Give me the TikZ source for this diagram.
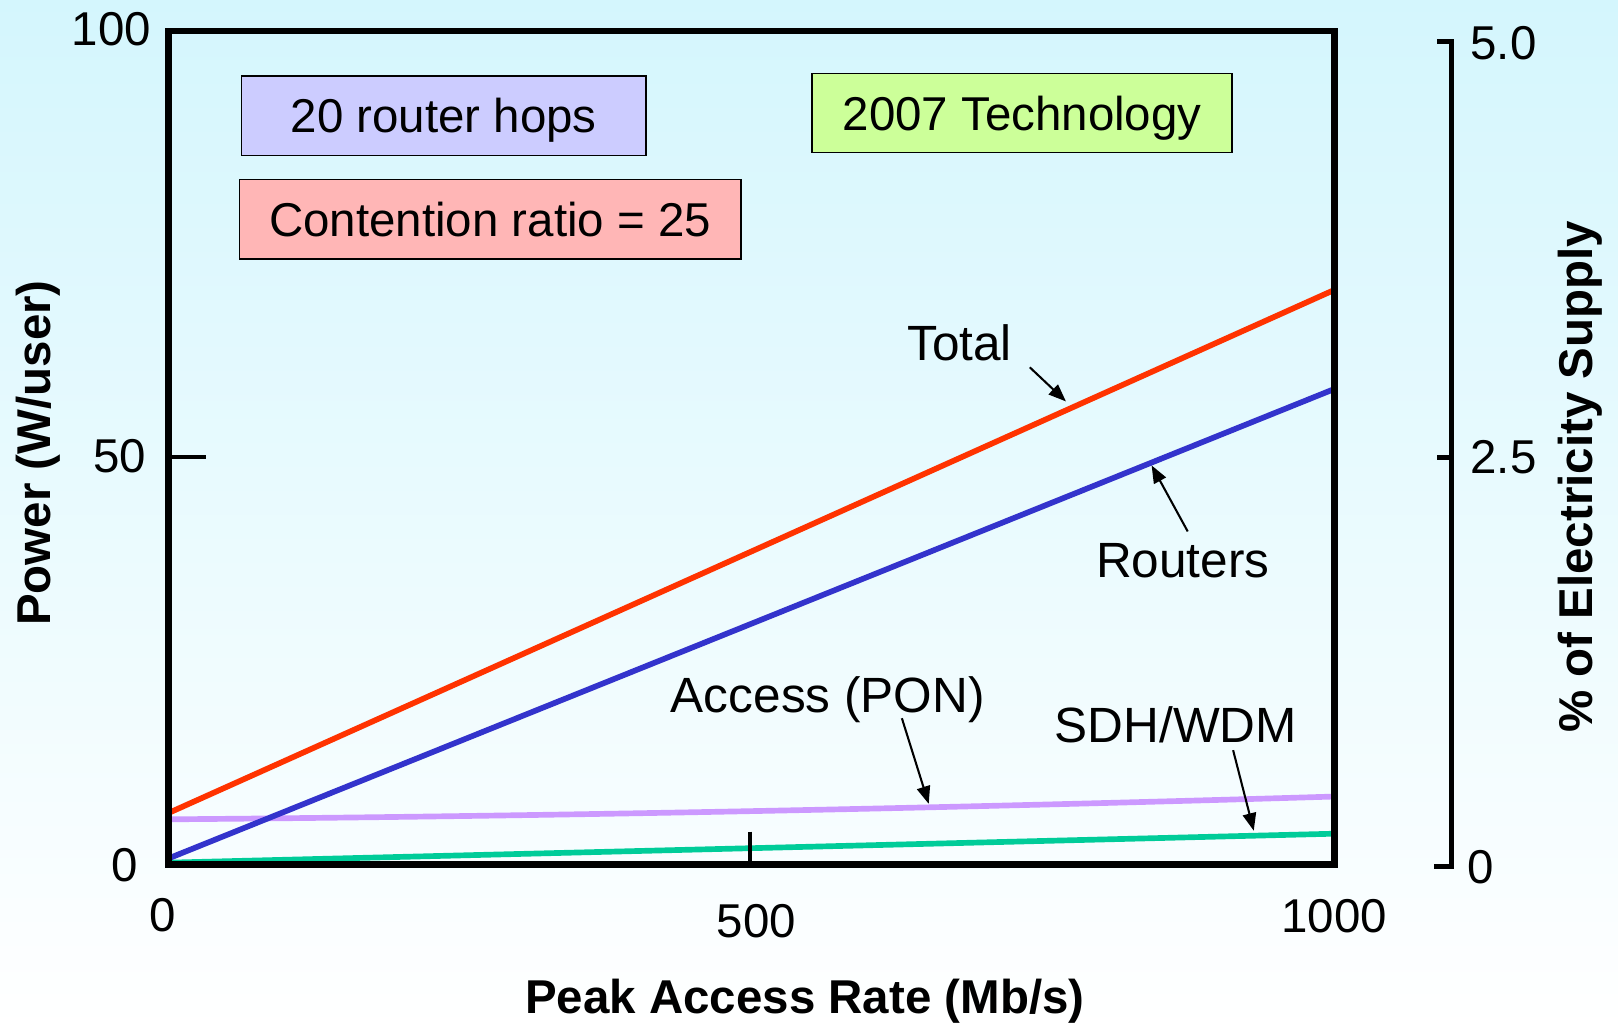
\documentclass[tikz,border=0pt]{standalone}
\usepackage{fontspec}
\setmainfont{Liberation Sans}
\usetikzlibrary{arrows.meta}
\definecolor{bgtop}{RGB}{212,246,253}
\definecolor{totalred}{RGB}{255,51,0}
\definecolor{routblue}{RGB}{51,51,204}
\definecolor{accpurple}{RGB}{204,153,255}
\definecolor{sdhgreen}{RGB}{0,204,153}
\definecolor{boxlav}{RGB}{204,204,255}
\definecolor{boxpink}{RGB}{255,182,182}
\definecolor{boxgreen}{RGB}{204,255,153}
\begin{document}
\begin{tikzpicture}[x=1pt,y=-1pt,
 lbl/.style={font=\fontsize{46}{52}\selectfont, inner sep=0pt},
 curvelbl/.style={font=\fontsize{48}{54}\selectfont, inner sep=0pt},
 ttl/.style={font=\fontsize{46}{52}\selectfont\bfseries, inner sep=0pt},
 infobox/.style={draw=black, line width=1.3pt, inner sep=0pt, text height=33pt, text depth=0pt, minimum height=77pt, font=\fontsize{46}{52}\selectfont},
 curve/.style={line width=5.5pt},
 pointer/.style={line width=2pt, -{Triangle[length=17pt,width=13pt]}},
 frameline/.style={line width=6.5pt},
 tickline/.style={line width=4pt},
 raxis/.style={line width=5pt, line join=miter},
]
\shade[top color=bgtop, bottom color=white] (0,0) rectangle (1568,997);
\useasboundingbox (0,0) rectangle (1568,997);

% plot area corners
\coordinate (fTL) at (163,30);
\coordinate (fBR) at (1293,838);

% curves
\coordinate (r0) at (163,788); \coordinate (r1) at (1293,281);
\coordinate (b0) at (163,832); \coordinate (b1) at (1293,377);
\coordinate (p0) at (163,794); \coordinate (p1) at (1290,772);
\coordinate (g0) at (163,836); \coordinate (g1) at (1290,808);
\draw[curve, accpurple] (p0) .. controls (521,791.1) and (897,783.8) .. (p1);
\draw[curve, sdhgreen] (g0) -- (g1);
\draw[curve, routblue] (b0) -- (b1);
\draw[curve, totalred] (r0) -- (r1);

% frame and ticks
\draw[frameline] (fTL) rectangle (fBR);
\coordinate (t50a) at (163,443); \coordinate (t50b) at (200,443);
\draw[tickline] (t50a) -- (t50b);
\coordinate (t500a) at (727,806); \coordinate (t500b) at (727,838);
\draw[tickline] (t500a) -- (t500b);

% right axis
\coordinate (ra1) at (1393,40); \coordinate (ra2) at (1407,40);
\coordinate (ra3) at (1407,840); \coordinate (ra4) at (1390,840);
\coordinate (ram) at (1393,443); \coordinate (ramr) at (1407,443);
\draw[raxis] (ra1) -- (ra2) -- (ra3) -- (ra4);
\draw[raxis] (ram) -- (ramr);

% tick labels
\node[lbl] (y100) at (108,28) {100};
\node[lbl] (y50) at (116,442) {50};
\node[lbl] (y0) at (121,838) {0};
\node[lbl] (x0) at (158,887) {0};
\node[lbl] (x500) at (733,893) {500};
\node[lbl] (x1000) at (1293,888) {1000};
\node[lbl] (r50) at (1457,42) {5.0};
\node[lbl] (r25) at (1457,443) {2.5};
\node[lbl] (r0l) at (1435,840) {0};

% titles
\node[ttl, rotate=90] (ytitle) at (37,439) {Power (W/user)};
\node[ttl, rotate=90] (rtitle) at (1531,462) {\% of Electricity Supply};
\node[ttl] (xtitle) at (780,970) {Peak Access Rate (Mb/s)};

% info boxes
\node[infobox, fill=boxlav, minimum width=392pt] (hops) at (430,112) {20 router hops};
\node[infobox, fill=boxpink, minimum width=486pt] (contention) at (475,212.5) {Contention ratio = 25};
\node[infobox, fill=boxgreen, minimum width=407pt] (tech) at (990.5,109.5) {2007 Technology};

% curve labels
\node[curvelbl, anchor=base west] (total) at (879,349) {Total};
\node[curvelbl, anchor=base west] (routers) at (1062,560) {Routers};
\node[curvelbl, anchor=base west] (access) at (650,690) {Access (PON)};
\node[curvelbl, anchor=base west] (sdh) at (1022,720) {SDH/WDM};

% pointers
\coordinate (totT) at (998,356); \coordinate (totH) at (1033,389);
\coordinate (rouT) at (1151,515); \coordinate (rouH) at (1116,451);
\coordinate (accT) at (874,696); \coordinate (accH) at (900,779);
\coordinate (sdhT) at (1195,727); \coordinate (sdhH) at (1215,805);
\draw[pointer] (totT) -- (totH);
\draw[pointer] (rouT) -- (rouH);
\draw[pointer] (accT) -- (accH);
\draw[pointer] (sdhT) -- (sdhH);
\end{tikzpicture}
\end{document}
